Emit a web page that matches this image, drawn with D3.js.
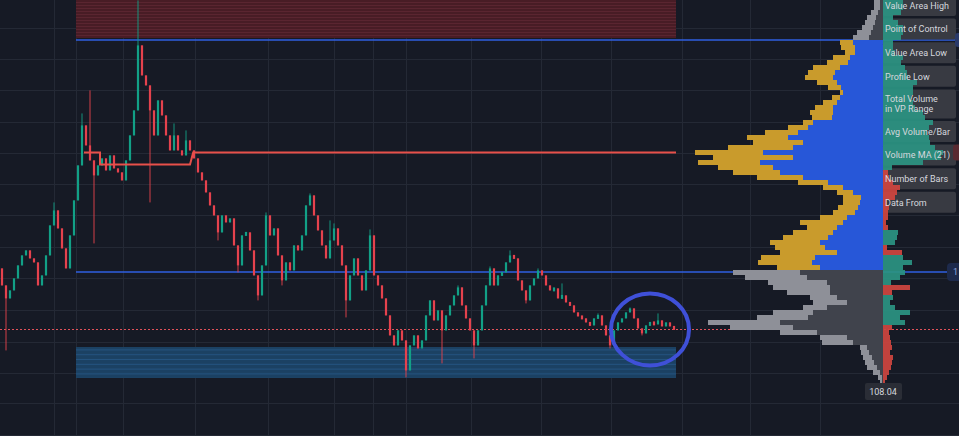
<!DOCTYPE html>
<html><head><meta charset="utf-8">
<script src="https://cdn.jsdelivr.net/npm/d3@7"></script>
<style>html,body{margin:0;padding:0;background:#161a25;overflow:hidden}svg{display:block}</style>
</head><body><svg id="c" width="959" height="436"></svg>
<script>
// ---------- DATA ----------
const firstOpen = 120.4;
const closes = [
 118.7,117.4,118.2,119.4,120.7,121.7,122.2,121.4,121.0,118.7,
 119.7,121.7,124.7,126.2,124.4,122.4,120.4,123.7,127.2,130.7,
 134.7,132.7,131.2,129.7,130.7,131.4,130.2,131.7,130.4,130.0,
 129.2,131.2,133.7,136.2,142.7,139.7,138.7,136.2,133.7,137.2,
 135.7,133.7,132.2,133.7,132.2,131.7,133.2,132.2,131.4,130.0,
 129.2,128.0,126.7,125.7,124.0,125.7,125.0,125.4,122.7,120.7,
 123.7,124.0,122.2,119.7,117.7,120.7,125.7,123.7,124.4,121.7,
 119.2,121.0,120.2,122.7,122.2,123.7,126.7,127.7,125.7,124.2,
 122.7,121.4,123.2,124.4,122.7,120.7,117.2,119.7,121.4,119.7,
 118.2,120.2,123.7,119.7,118.7,117.4,115.7,113.7,112.7,114.2,
 113.2,110.2,112.7,113.7,112.4,113.2,115.7,117.2,115.2,116.2,
 114.2,115.7,116.7,117.7,118.5,116.7,115.4,114.2,112.7,114.2,
 116.7,118.7,120.4,118.7,119.7,120.0,121.0,121.7,121.4,119.2,
 118.2,117.2,118.7,119.4,120.2,119.7,118.7,118.2,118.4,117.4,
 117.7,117.0,116.7,116.0,115.6,115.4,115.0,114.7,115.4,115.7,
 114.7,113.7,112.7,114.2,115.0,115.4,116.0,116.4,115.4,114.4,
 113.9,114.7,115.0,114.8,115.2,114.6,115.0,114.6,114.3];
const spikeBars   = [1,13,20,22,23,34,37,43,46,54,59,64,66,70,77,82,83,86,92,101,110,114,118,122,127,131,134,140,149,152,157,160,164];
const spikePrices = [112.2,127.0,135.9,138.2,122.9,147.2,127.0,134.9,134.2,123.2,120.0,117.2,126.0,118.7,127.9,125.2,124.9,115.5,124.3,109.5,110.9,118.7,111.4,120.6,122.2,116.9,120.4,118.9,115.9,112.4,116.5,113.7,115.9];

const priceTop = 147.24, rowStep = 0.5;
const profUp = [3,3,5,7,8,10,12,14,30,28,28,33,35,43,48,50,46,42,40,43,46,50,50,51,70,75,85,95,80,90,120,90,123,110,103,80,55,40,30,22,23,25,28,36,40,46,50,55,63,58,46,68,71,63,83,76,56,53,53,46,36,56,70,75,103,90,66,36,30,16,14,11,9,6,3,1,1,0];
const profDown = [6,6,7,9,10,11,14,16,13,14,10,17,21,27,27,28,20,13,3,8,14,18,23,20,10,20,33,41,50,65,68,80,62,55,47,46,30,20,16,18,17,20,22,27,43,30,40,45,50,50,57,54,54,43,67,62,59,57,43,27,34,24,40,51,72,63,37,27,31,7,8,9,9,10,7,4,2,2];
const delta = [20,20,18,10,15,20,20,18,10,10,12,20,18,22,24,25,34,30,30,28,30,32,40,42,50,46,44,46,47,52,60,58,40,9,-5,-6,-10,-17,-14,-12,-4,-6,-5,-5,-3,-5,15,14,12,-4,-19,20,29,20,22,17,8,-27,-9,10,7,12,27,17,22,-9,-6,-7,-8,-9,-7,-10,-9,-8,-6,-4,-2,0];

const valueAreaHigh = 143.24, valueAreaLow = 120.04, profileLow = 108.04, lastPrice = 114.3;
const pocBars   = [20.5,24.5,24.5,47,47.8,168.5];
const pocPrices = [132.0,132.0,130.8,130.8,132.0,132.0];
const supplyZone = {from:18.5, to:168.5, top:147.24, bottom:143.44};
const demandZone = {from:18.5, to:168.5, top:112.54, bottom:109.44};
const gridBars = [13,18.5,30.25,48.25,66.5,83,92.75,101,117.25,134.75,152.25,170,187,204.5];
const gridPrices = [144.4,141.3,138.2,135.0,131.9,128.8,125.7,122.5,119.4,116.2,113.0,109.9,106.9,103.7];
const statLabels = [["Value Area High"],["Point of Control"],["Value Area Low"],["Profile Low"],["Total Volume","in VP Range"],["Avg Volume/Bar"],["Volume MA (21)"],["Number of Bars"],["Data From"]];
const marker = {bar:162, price:114.3, barRadius:9.75, priceRadius:3.6};

// ---------- DRAW ----------
const W = 959, H = 436;
const svg = d3.select("#c");
const x = d3.scaleLinear().domain([0,168]).range([2,674]);
const y = d3.scaleLinear().domain([103.64,147.24]).range([H,0]);
const v = d3.scaleLinear().domain([0,188]).range([0,188]);
const baseX = 883;
const UP="#12a086", DN="#e5424d";

svg.append("rect").attr("width",W).attr("height",H).attr("fill","#161a25");

// grid
const g = svg.append("g").attr("stroke","#242935").attr("stroke-width",1);
g.selectAll(".gv").data(gridBars).join("line")
 .attr("x1",d=>Math.round(x(d))+0.5).attr("x2",d=>Math.round(x(d))+0.5).attr("y1",0).attr("y2",H);
g.selectAll(".gh").data(gridPrices).join("line")
 .attr("y1",d=>Math.round(y(d))+0.5).attr("y2",d=>Math.round(y(d))+0.5).attr("x1",0).attr("x2",W);

// zones with stripes
const defs = svg.append("defs");
function stripes(id, base, line, h){
  const p = defs.append("pattern").attr("id",id).attr("patternUnits","userSpaceOnUse").attr("width",10).attr("height",h);
  p.append("rect").attr("width",10).attr("height",h).attr("fill",base);
  p.append("rect").attr("y",h-1).attr("width",10).attr("height",1).attr("fill",line);
}
stripes("sr","#481c25","#5a2530",3);
stripes("sb","#1b4163","#245380",4.8);
[[supplyZone,"url(#sr)"],[demandZone,"url(#sb)"]].forEach(([z,f])=>{
  svg.append("rect").attr("x",x(z.from)).attr("width",x(z.to)-x(z.from))
   .attr("y",y(z.top)).attr("height",y(z.bottom)-y(z.top)).attr("fill",f);
});

// value area lines
[valueAreaHigh,valueAreaLow].forEach(p=>{
  svg.append("line").attr("x1",x(supplyZone.from)).attr("x2",W).attr("y1",y(p)).attr("y2",y(p))
   .attr("stroke","#2f5fe0").attr("stroke-width",1.6);
});

// current price dotted
svg.append("line").attr("x1",0).attr("x2",W).attr("y1",Math.round(y(lastPrice))+0.5).attr("y2",Math.round(y(lastPrice))+0.5)
 .attr("stroke","#e0525a").attr("stroke-width",1.2).attr("stroke-dasharray","2,2");

// candles
const candles = closes.map((c,i)=>{
  const o = i===0?firstOpen:closes[i-1];
  let hi = Math.max(o,c), lo = Math.min(o,c);
  const k = spikeBars.indexOf(i);
  if(k>=0){ hi=Math.max(hi,spikePrices[k]); lo=Math.min(lo,spikePrices[k]); }
  return {i,o,c,hi,lo};
});
const cg = svg.append("g");
cg.selectAll(".w").data(candles).join("rect")
 .attr("x",d=>x(d.i)-0.5).attr("width",1)
 .attr("y",d=>y(d.hi)).attr("height",d=>Math.max(1,y(d.lo)-y(d.hi)))
 .attr("fill",d=>d.c>=d.o?UP:DN).attr("opacity",0.9);
cg.selectAll(".b").data(candles).join("rect")
 .attr("x",d=>x(d.i)-1.1).attr("width",2.2)
 .attr("y",d=>{const h=Math.abs(y(d.o)-y(d.c)); const t=y(Math.max(d.o,d.c)); return h<4? t-(4-h)/2 : t;})
 .attr("height",d=>Math.max(4,Math.abs(y(d.o)-y(d.c))))
 .attr("fill",d=>d.c>=d.o?UP:DN);

// developing POC line
svg.append("path").datum(pocBars.map((b,i)=>[b,pocPrices[i]]))
 .attr("d",d3.line().x(d=>x(d[0])).y(d=>y(d[1])))
 .attr("fill","none").attr("stroke","#e8504a").attr("stroke-width",2);

// volume profile
const rows = profUp.map((u,i)=>{
  const top = priceTop - i*rowStep, bot = top-rowStep, mid=(top+bot)/2;
  return {i,u,d:profDown[i],top,bot,inVA: mid<=valueAreaHigh && mid>=valueAreaLow, delta:delta[i]};
});
const pg = svg.append("g");
pg.selectAll(".pu").data(rows).join("rect")
 .attr("x",d=>baseX-v(d.u)).attr("width",d=>v(d.u))
 .attr("y",d=>y(d.top)).attr("height",d=>y(d.bot)-y(d.top))
 .attr("fill",d=>d.inVA?"#2757d8":"#40434c");
pg.selectAll(".pd").data(rows).join("rect")
 .attr("x",d=>baseX-v(d.u)-v(d.d)).attr("width",d=>v(d.d))
 .attr("y",d=>y(d.top)).attr("height",d=>y(d.bot)-y(d.top))
 .attr("fill",d=>d.inVA?"#c99b2c":"#8e9098");

// stat boxes
let cy = -5;
const boxes = statLabels.map(l=>{ const h = l.length>1?29:21; const b={l,top:cy,h}; cy+=h+2.6; return b; });
svg.append("g").selectAll("rect").data(boxes).join("rect")
 .attr("x",baseX).attr("width",73).attr("y",d=>d.top).attr("height",d=>d.h).attr("rx",2)
 .attr("fill","#383a42");

// delta histogram
svg.append("g").selectAll("rect").data(rows.filter(r=>r.delta!==0)).join("rect")
 .attr("x",baseX).attr("width",d=>v(Math.abs(d.delta)))
 .attr("y",d=>y(d.top)).attr("height",d=>y(d.bot)-y(d.top))
 .attr("fill",d=>d.delta>0?"#2b9482":"#d0453f").attr("opacity",0.92);

// stat texts
const tg = svg.append("g").attr("font-family","Roboto, 'Noto Sans', sans-serif").attr("font-size","9px").attr("fill","#d6d8de");
boxes.forEach(b=>{
  b.l.forEach((t,j)=>{
    const n=b.l.length;
    tg.append("text").attr("x",baseX+2).attr("y",b.top+b.h/2 + (j-(n-1)/2)*10 + 3.2).text(t);
  });
});

// profile low label
svg.append("rect").attr("x",baseX-18).attr("y",y(profileLow)-9).attr("width",37).attr("height",17).attr("rx",2).attr("fill","#2a2d36");
svg.append("text").attr("x",baseX).attr("y",y(profileLow)+3).attr("text-anchor","middle")
 .attr("font-family","Roboto, 'Noto Sans', sans-serif").attr("font-size","9px").attr("fill","#d6d8de").text(profileLow.toFixed(2));

// right edge partial price labels
svg.append("rect").attr("x",947).attr("y",y(valueAreaLow)-9).attr("width",20).attr("height",18).attr("rx",4).attr("fill","#1d2a4c");
svg.append("text").attr("x",953).attr("y",y(valueAreaLow)+3).attr("font-family","Roboto, sans-serif").attr("font-size","9px").attr("fill","#8fa6dd").text("1");
svg.append("rect").attr("x",953).attr("y",y(132.0)-8).attr("width",12).attr("height",16).attr("rx",3).attr("fill","#5a2a31");
svg.append("rect").attr("x",955).attr("y",y(valueAreaHigh)-7).attr("width",10).attr("height",14).attr("rx",3).attr("fill","#2a3a6a");

// highlight ellipse
svg.append("ellipse").attr("cx",x(marker.bar)).attr("cy",y(marker.price))
 .attr("rx",x(marker.bar+marker.barRadius)-x(marker.bar)).attr("ry",y(marker.price-marker.priceRadius)-y(marker.price))
 .attr("fill","none").attr("stroke","#3f50d8").attr("stroke-width",4);
</script></body></html>
